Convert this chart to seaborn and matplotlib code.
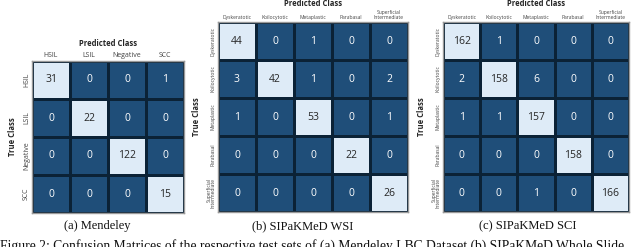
import numpy as np
import pandas as pd
import seaborn as sns
import matplotlib.pyplot as plt
from matplotlib.colors import ListedColormap

sns.set_theme(style="white")
plt.rcParams['font.family'] = ['Open Sans', 'DejaVu Sans']

# --- data ---
mendeley_labels = ['HSIL', 'LSIL', 'Negative', 'SCC']
mendeley_cm = [[31, 0, 0, 1],
               [0, 22, 0, 0],
               [0, 0, 122, 0],
               [0, 0, 0, 15]]

sipak_labels = ['Dyskeratotic', 'Koilocytotic', 'Metaplastic', 'Parabasal', 'Superficial\nIntermediate']
wsi_cm = [[44, 0, 1, 0, 0],
          [3, 42, 1, 0, 2],
          [1, 0, 53, 0, 1],
          [0, 0, 0, 22, 0],
          [0, 0, 0, 0, 26]]
sci_cm = [[162, 1, 0, 0, 0],
          [2, 158, 6, 0, 0],
          [1, 1, 157, 0, 0],
          [0, 0, 0, 158, 0],
          [0, 0, 1, 0, 166]]

captions = ['(a) Mendeley', '(b) SIPaKMeD WSI', '(c) SIPaKMeD SCI']
fig_caption = ('Figure 2: Confusion Matrices of the respective test sets of '
               '(a) Mendeley LBC Dataset (b) SIPaKMeD Whole Slide')

DARK = '#1f4e79'
LIGHT = '#deebf7'
cmap = ListedColormap([DARK, LIGHT])

W, H = 640, 247
fig = plt.figure(figsize=(W / 100, H / 100), dpi=100)


def px_axes(x0, y0, x1, y1):
    return fig.add_axes([x0 / W, (H - y1) / H, (x1 - x0) / W, (y1 - y0) / H])


def draw_cm(ax, cm, labels, tick_fs, label_fs):
    df = pd.DataFrame(cm, index=labels, columns=labels)
    sns.heatmap(df, ax=ax, cmap=cmap, vmin=0, vmax=20, annot=True, fmt='d',
                cbar=False, linewidths=0.8, linecolor='#0b2236',
                annot_kws={'fontsize': 7.5})
    ax.xaxis.tick_top()
    ax.xaxis.set_label_position('top')
    ax.set_xlabel('Predicted Class', fontsize=label_fs, fontweight='bold', labelpad=3)
    ax.set_ylabel('True Class', fontsize=label_fs, fontweight='bold', labelpad=4)
    ax.tick_params(length=0, pad=1.5, labelsize=tick_fs, colors='#444444')
    plt.setp(ax.get_xticklabels(), rotation=0, linespacing=0.9)
    plt.setp(ax.get_yticklabels(), rotation=90, va='center', linespacing=0.9)
    for s in ax.spines.values():
        s.set_visible(True)
        s.set_color('#999999')
        s.set_linewidth(1.0)


ax_a = px_axes(32, 61, 184, 213)
draw_cm(ax_a, mendeley_cm, mendeley_labels, 5.0, 5.5)
ax_a.xaxis.labelpad = 4

ax_b = px_axes(218, 22, 408, 212)
draw_cm(ax_b, wsi_cm, sipak_labels, 3.6, 5.5)

ax_c = px_axes(443, 22, 629, 212)
draw_cm(ax_c, sci_cm, sipak_labels, 3.6, 5.5)

# sub-captions
cap_x = [97, 303, 528]
for cx, txt in zip(cap_x, captions):
    fig.text(cx / W, 1 - 226 / H, txt, ha='center', va='center',
             fontsize=9, family='Liberation Serif', color='#111111')

# figure caption, cut by the bottom edge as in the source page
fig.text(0 / W, 1 - 239 / H, fig_caption, ha='left', va='top',
         fontsize=9.8, family='Liberation Serif', color='#111111')

plt.savefig('out.png', dpi=100)
